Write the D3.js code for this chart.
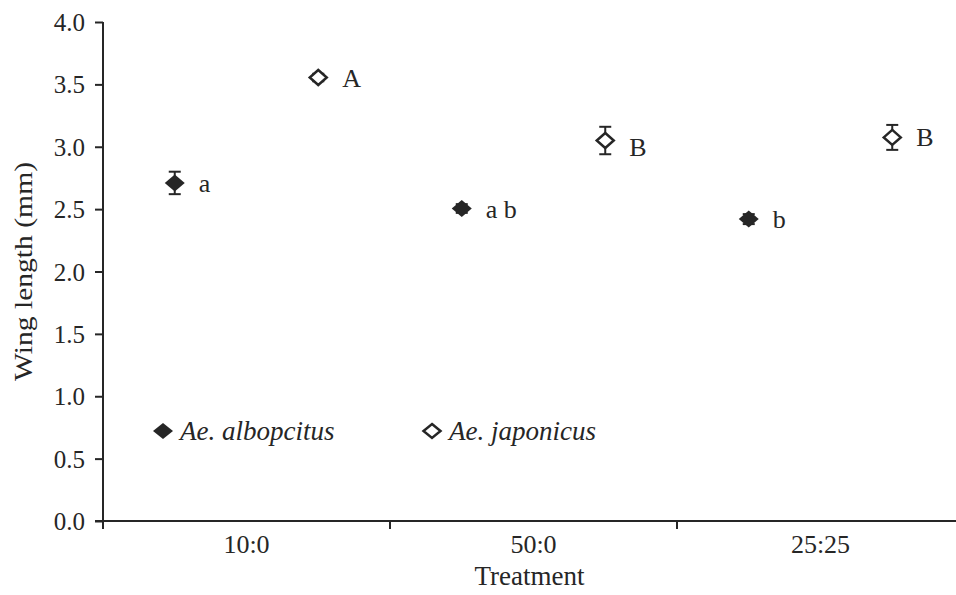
<!DOCTYPE html>
<html><head><meta charset="utf-8">
<script src="https://cdn.jsdelivr.net/npm/d3@7"></script>
<style>body{margin:0;background:#fff}svg{display:block}</style>
</head><body><svg id="c" width="956" height="595"></svg>
<script>
const categories = ["10:0", "50:0", "25:25"];
const series = ["Ae. albopcitus", "Ae. japonicus"];
const alboMean = [2.71, 2.505, 2.42];
const alboErr = [0.09, 0.035, 0.04];
const japMean = [3.555, 3.05, 3.075];
const japErr = [0.03, 0.11, 0.10];
const alboLetters = ["a", "a b", "b"];
const japLetters = ["A", "B", "B"];
const yTicks = [0, 0.5, 1.0, 1.5, 2.0, 2.5, 3.0, 3.5, 4.0];

const svg = d3.select("#c");
const ink = "#262626";
const serif = "'Liberation Serif','Times New Roman',serif";
const mLeft = 103, mTop = 22, mBottom = 521, rightVis = 956;
const x = d3.scaleBand().domain(categories).range([mLeft, mLeft + 3 * 287]);
const sub = d3.scalePoint().domain(series).range([0.25, 0.75]);
const y = d3.scaleLinear().domain([0, 4]).range([mBottom, mTop]);

const gy = svg.append("g").attr("transform", `translate(${mLeft},0)`)
  .call(d3.axisLeft(y).tickValues(yTicks).tickFormat(d3.format(".1f")).tickSize(8).tickPadding(10));
gy.select(".domain").remove();
gy.append("line").attr("x1", 0).attr("x2", 0).attr("y1", mTop).attr("y2", mBottom + 8).attr("stroke", ink).attr("stroke-width", 2);
gy.selectAll(".tick line").attr("stroke", ink).attr("stroke-width", 2);
gy.selectAll(".tick text").attr("fill", ink).style("font-family", serif).style("font-size", "25px").attr("dy", "0.34em");

const gx = svg.append("g").attr("transform", `translate(0,${mBottom})`)
  .call(d3.axisBottom(x).tickSize(0).tickPadding(14));
gx.select(".domain").remove();
gx.append("line").attr("x1", mLeft - 8).attr("x2", rightVis).attr("y1", 0).attr("y2", 0).attr("stroke", ink).attr("stroke-width", 2);
gx.selectAll(".tick text").attr("fill", ink).style("font-family", serif).style("font-size", "26px");
gx.selectAll(".bnd").data(categories.slice(1)).join("line")
  .attr("x1", d => x(d)).attr("x2", d => x(d)).attr("y1", 0).attr("y2", 8)
  .attr("stroke", ink).attr("stroke-width", 2);

svg.append("text").attr("x", (mLeft + rightVis) / 2).attr("y", 585).attr("text-anchor", "middle")
  .style("font-family", serif).style("font-size", "27px").attr("fill", ink).text("Treatment");
svg.append("text").attr("transform", `translate(32,${(mTop + mBottom) / 2}) rotate(-90)`).attr("text-anchor", "middle")
  .attr("textLength", 219).attr("lengthAdjust", "spacingAndGlyphs")
  .style("font-family", serif).style("font-size", "26px").attr("fill", ink).text("Wing length (mm)");

const diamond = (hw, hh) => `M0,${-hh}L${hw},0L0,${hh}L${-hw},0Z`;
const data = [];
categories.forEach((c, i) => {
  data.push({c, s: series[0], m: alboMean[i], e: alboErr[i], l: alboLetters[i], filled: true});
  data.push({c, s: series[1], m: japMean[i], e: japErr[i], l: japLetters[i], filled: false});
});
const px = d => x(d.c) + x.bandwidth() * sub(d.s);

const g = svg.append("g");
data.forEach(d => {
  const cx = px(d), y1 = y(d.m + d.e), y2 = y(d.m - d.e);
  g.append("line").attr("x1", cx).attr("x2", cx).attr("y1", y1).attr("y2", y2).attr("stroke", ink).attr("stroke-width", 2);
  [y1, y2].forEach(yy => g.append("line").attr("x1", cx - 6).attr("x2", cx + 6).attr("y1", yy).attr("y2", yy).attr("stroke", ink).attr("stroke-width", 2));
  if (d.filled) {
    g.append("path").attr("d", diamond(10, 8.5)).attr("transform", `translate(${cx},${y(d.m)})`).attr("fill", ink);
  } else {
    g.append("path").attr("d", diamond(8.5, 7.5)).attr("transform", `translate(${cx},${y(d.m)})`).attr("fill", "#fff").attr("stroke", ink).attr("stroke-width", 2.5);
  }
  g.append("text").attr("x", cx + 24).attr("y", y(d.m) + (d.e > 0.105 ? 15 : 9)).style("font-family", serif).style("font-size", "26px").attr("fill", ink).text(d.l);
});

const legend = [{s: series[0], filled: true, x: 163}, {s: series[1], filled: false, x: 432}];
legend.forEach(L => {
  const ly = 431;
  if (L.filled) svg.append("path").attr("d", diamond(10, 8)).attr("transform", `translate(${L.x},${ly})`).attr("fill", ink);
  else svg.append("path").attr("d", diamond(8.5, 7)).attr("transform", `translate(${L.x},${ly})`).attr("fill", "#fff").attr("stroke", ink).attr("stroke-width", 2.5);
  svg.append("text").attr("x", L.x + 17).attr("y", ly + 9).style("font-family", serif).style("font-style", "italic").style("font-size", "27px").attr("fill", ink).text(L.s);
});
</script></body></html>
